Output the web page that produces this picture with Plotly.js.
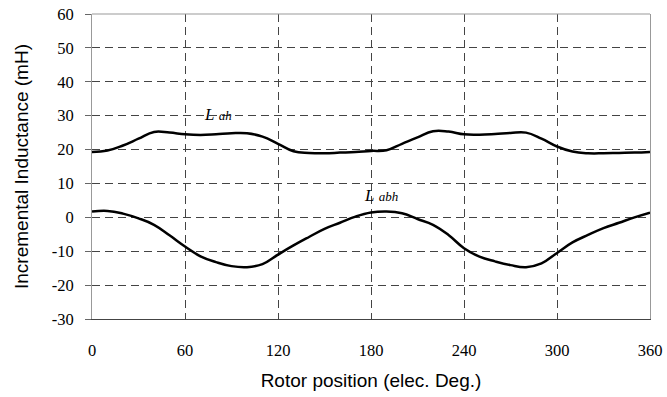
<!DOCTYPE html>
<html>
<head>
<meta charset="utf-8">
<script src="https://cdn.plot.ly/plotly-3.0.1.min.js"></script>
<style>html,body{margin:0;padding:0;background:#fff;}#chart{width:667px;height:397px;}</style>
</head>
<body>
<div id="chart"></div>
<script>
const rotorPosition = [0,10,20,30,40,50,60,70,80,90,100,110,120,130,140,150,160,170,180,190,200,210,220,230,240,250,260,270,280,290,300,310,320,330,340,350,360];
const lahValues = [19.3,19.7,21.2,23.2,25.2,25.0,24.5,24.3,24.5,24.8,24.8,23.8,21.7,19.5,19.0,18.9,19.1,19.3,19.6,19.8,21.7,23.6,25.4,25.3,24.5,24.4,24.6,24.9,25.0,23.2,20.9,19.4,18.9,18.9,19.0,19.1,19.3];
const labhValues = [1.7,1.9,1.1,-0.3,-2.2,-5.3,-8.6,-11.5,-13.2,-14.4,-14.7,-13.8,-11.0,-8.3,-5.8,-3.4,-1.6,0.2,1.4,1.7,1.2,-0.5,-2.2,-5.2,-9.1,-11.6,-13.0,-14.1,-14.7,-13.6,-10.5,-7.4,-5.2,-3.2,-1.6,0.0,1.4];
const xTicks = [0,60,120,180,240,300,360];
const yTicks = [-30,-20,-10,0,10,20,30,40,50,60];

const lineStyle = {color:'#000', width:2.5, shape:'spline', smoothing:1.2};
const traces = [
  {x: rotorPosition, y: lahValues, mode:'lines', line: lineStyle, name:'Lah', hoverinfo:'skip'},
  {x: rotorPosition, y: labhValues, mode:'lines', line: lineStyle, name:'Labh', hoverinfo:'skip'}
];

const serif = 'Liberation Serif';
const sans = 'Liberation Sans';

const layout = {
  width: 667, height: 397,
  margin: {l:92, r:17, t:14, b:78},
  paper_bgcolor:'#fff', plot_bgcolor:'#fff',
  showlegend:false,
  font:{family: serif, size:16.5, color:'#000'},
  xaxis: {
    range:[0,360], tickvals: xTicks, ticktext: xTicks.map(String),
    showgrid:true, gridcolor:'#444', gridwidth:1, griddash:'8px,5px',
    zeroline:false, showline:true, linecolor:'#444', linewidth:1,
    ticks:'', ticklabelstandoff: 16,
    tickfont:{family: serif, size:16.5, color:'#000'},
    title:{text:'Rotor position (elec. Deg.)', font:{family: sans, size:19, color:'#000'}, standoff: 14}
  },
  yaxis: {
    range:[-30,60], tickvals: yTicks, ticktext: yTicks.map(String),
    showgrid:true, gridcolor:'#444', gridwidth:1, griddash:'8px,5px',
    zeroline:false, showline:true, mirror:true, linecolor:'#999', linewidth:1,
    ticks:'outside', ticklen:6, tickcolor:'#666', ticklabelstandoff: 8,
    tickfont:{family: serif, size:16.5, color:'#000'},
    title:{text:'Incremental Inductance (mH)', font:{family: sans, size:19, color:'#000'}, standoff: 18}
  },
  shapes: [
    {type:'line', xref:'paper', yref:'paper', x0:0, x1:1, y0:1, y1:1, line:{color:'#999', width:1}}
  ],
  annotations: [
    {x: 81, y: 30.3, xref:'x', yref:'y', showarrow:false,
     text:"<i>L</i> <i><span style='font-size:13px'>ah</span></i>", font:{family: serif, size:17, color:'#000'}},
    {x: 186.5, y: 6.3, xref:'x', yref:'y', showarrow:false,
     text:"<i>L</i> <i><span style='font-size:13px'>abh</span></i>", font:{family: serif, size:17, color:'#000'}}
  ]
};

Plotly.newPlot('chart', traces, layout, {displayModeBar:false, staticPlot:true});
</script>
</body>
</html>
